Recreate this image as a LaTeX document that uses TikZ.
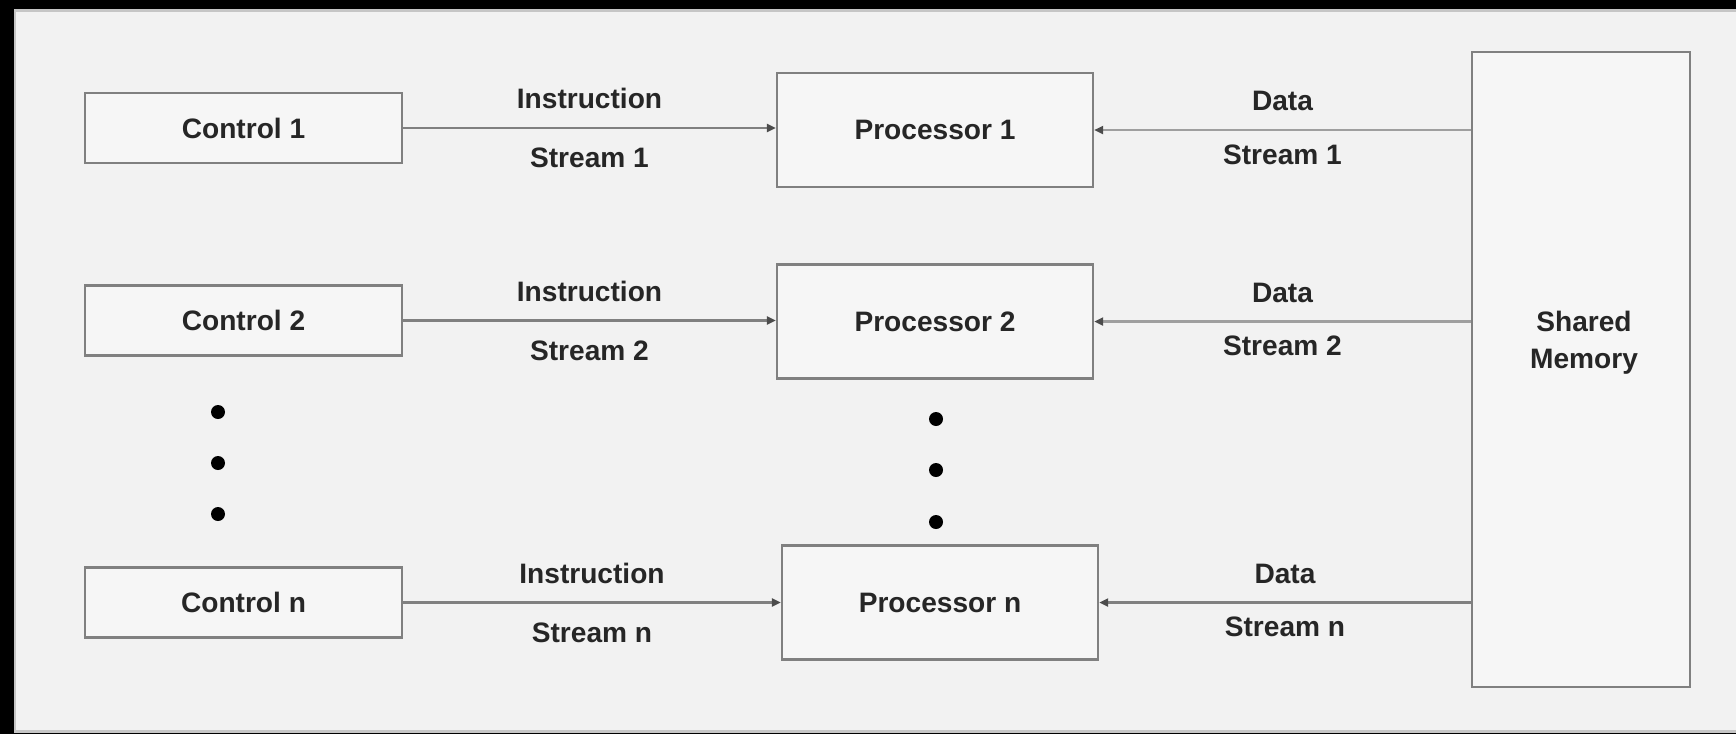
\documentclass[tikz,border=0pt]{standalone}
\usepackage{fontspec}
\setmainfont{Liberation Sans}
\usetikzlibrary{positioning,arrows.meta}

\begin{document}
\begin{tikzpicture}[x=0.02cm, y=-0.02cm,
% Node styles
 box/.style={draw=gray, line width=0.05cm, fill=gray!7, text=black!85,
 font=\fontsize{16}{21}\selectfont\bfseries, align=center, inner sep=0pt},
 ctrl/.style={box, minimum width=6.34cm, minimum height=1.4cm},
 proc/.style={box, minimum width=6.32cm, minimum height=2.28cm},
 mem/.style={box, minimum width=4.36cm, minimum height=12.7cm},
% Edge styles
 edge/.style={draw=gray, line width=0.055cm,
 -{Triangle[length=0.18cm, width=0.16cm, color=black!70]}},
 data/.style={edge, draw=gray!75},
% Label styles
 txt/.style={font=\fontsize{16}{21}\selectfont\bfseries,
 text=black!85, inner sep=0pt, align=center},
 lbl/.style={txt, midway}
]
% Background panel
\useasboundingbox (0,0) rectangle (1736,734);
\fill[black] (0,0) rectangle (1736,734);
\draw[fill=gray!10, draw=gray!45, line width=0.06cm] (15,10) rectangle (1760,731);
% Control units
\node[ctrl] (c1) at (243.5,128) {Control 1};
\node[ctrl] (c2) at (243.5,320.5) {Control 2};
\node[ctrl] (cn) at (243.5,602.5) {Control n};
% Processors
\node[proc] (p1) at (935,130) {Processor 1};
\node[proc] (p2) at (935,321.5) {Processor 2};
\node[proc] (pn) at (940,602.5) {Processor n};
% Shared memory
\node[mem] (mem) at (1581,369.5) {};
\node[txt] (memtext) at (1584,343) {Shared\\Memory};
% Dots
\foreach \y in {412,463,514} \fill[black] (218,\y) circle[radius=0.14cm];
\foreach \y in {419,470,522} \fill[black] (936,\y) circle[radius=0.14cm];
% Instruction streams
\draw[edge] (c1.east) -- (c1.east -| p1.west)
 node[lbl, above=0.35cm] {Instruction} node[lbl, below=0.37cm] {Stream 1};
\draw[edge] (c2.east) -- (c2.east -| p2.west)
 node[lbl, above=0.35cm] {Instruction} node[lbl, below=0.37cm] {Stream 2};
\draw[edge] (cn.east) -- (cn.east -| pn.west)
 node[lbl, above=0.35cm] {Instruction} node[lbl, below=0.37cm] {Stream n};
% Data streams
\draw[data] (mem.west |- p1.east) -- (p1.east)
 node[lbl, above=0.35cm] {Data} node[lbl, below=0.26cm] {Stream 1};
\draw[data] (mem.west |- p2.east) -- (p2.east)
 node[lbl, above=0.35cm] {Data} node[lbl, below=0.26cm] {Stream 2};
\draw[edge] (mem.west |- pn.east) -- (pn.east)
 node[lbl, above=0.35cm] {Data} node[lbl, below=0.26cm] {Stream n};
\end{tikzpicture}
\end{document}
